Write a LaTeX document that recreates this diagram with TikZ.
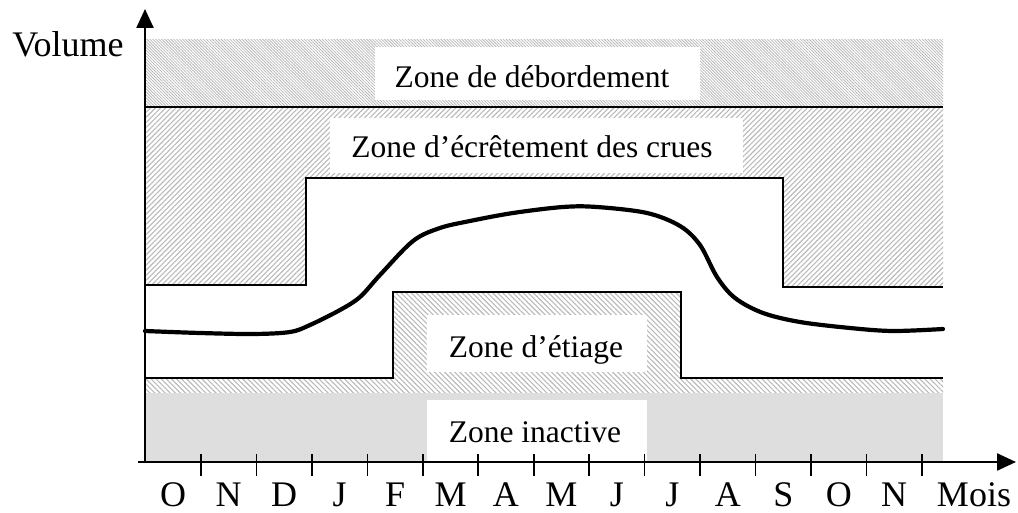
\documentclass[tikz,border=0pt]{standalone}
\usepackage{fontspec}
\setmainfont{Liberation Serif}
\usetikzlibrary{arrows.meta,patterns.meta}
\begin{document}
\begin{tikzpicture}[x=1pt,y=-1pt,
  lbl/.style={font=\fontsize{31.5}{36}\selectfont, anchor=base, inner sep=0pt},
  axlbl/.style={font=\fontsize{36}{40}\selectfont, anchor=base, inner sep=0pt},
  axis/.style={line width=2.4pt, -{Triangle[length=19pt,width=17pt]}},
  rule/.style={line width=1.8pt, line join=miter},
  tick/.style={line width=1.6pt},
  fine/.style={pattern={Lines[angle=-45,distance=2.1pt,line width=0.8pt]}, pattern color=gray!55},
  dotted zone/.style={fill=black!13},
  crest/.style={pattern={Lines[angle=45,distance=3.6pt,line width=1.1pt]}, pattern color=gray!55},
  low/.style={pattern={Lines[angle=-45,distance=3.6pt,line width=1.1pt]}, pattern color=gray!55},
  curve/.style={line width=4.2pt, line cap=round, line join=round}]
\useasboundingbox (0,0) rectangle (1018,513);

% shaded reservoir zones
\path[fine] (145,40) rectangle (943,107);
\path[crest] (145,107) -- (943,107) -- (943,287) -- (783,287) -- (783,178)
  -- (306,178) -- (306,285) -- (145,285) -- cycle;
\path[low] (145,378) -- (393,378) -- (393,292) -- (681,292) -- (681,378)
  -- (943,378) -- (943,393) -- (145,393) -- cycle;
\path[dotted zone] (145,393) rectangle (943,462);

% white label backgrounds
\fill[white] (375,47) rectangle (700,100);
\fill[white] (330,118) rectangle (743,173);
\fill[white] (427,315) rectangle (647,372);
\fill[white] (427,400) rectangle (647,462);

% zone labels
\node[lbl] (deb) at (532,88) {Zone de débordement};
\node[lbl] (ecr) at (532,158) {Zone d’écrêtement des crues};
\node[lbl] (eti) at (536,357) {Zone d’étiage};
\node[lbl] (ina) at (535,442) {Zone inactive};

% zone boundaries
\draw[rule] (145,107) -- (943,107);
\draw[rule] (145,285) -- (306,285) -- (306,178) -- (783,178) -- (783,287) -- (943,287);
\draw[rule] (145,378) -- (393,378) -- (393,292) -- (681,292) -- (681,378) -- (943,378);

% reservoir volume over the year
\draw[curve] plot[smooth, tension=0.55] coordinates {
  (145,331) (200,333) (253,334) (290,332) (310,325) (340,310) (360,297)
  (380,275) (413,241) (440,228) (470,221) (513,213) (563,207) (597,207)
  (647,213) (680,226) (700,245) (717,277) (735,298) (763,313) (800,322)
  (850,328) (893,331) (943,329)};

% axes
\coordinate (yb) at (145,463);
\coordinate (yt) at (145,9);
\coordinate (xl) at (138,462);
\coordinate (xr) at (1016,462);
\draw[axis] (yb) -- (yt);
\draw[axis] (xl) -- (xr);
\node[axlbl] (vol) at (68,57) {Volume};

% month ticks and labels
\foreach \k/\m in {1/O,2/N,3/D,4/J,5/F,6/M,7/A,8/M,9/J,10/J,11/A,12/S,13/O,14/N}{
  \draw[tick] ({145.5+55.46*\k},454) -- ({145.5+55.46*\k},476);
  \node[axlbl] (m\k) at ({145.5+55.46*(\k-0.5)},506) {\m};
}
\node[axlbl] (mois) at (974,506) {Mois};
\end{tikzpicture}
\end{document}
